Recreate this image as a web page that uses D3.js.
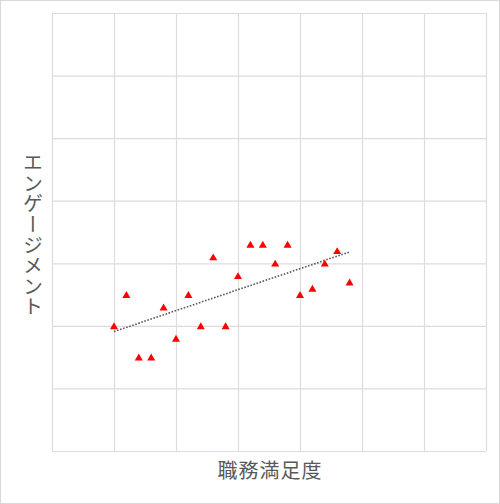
<!DOCTYPE html>
<html>
<head>
<meta charset="utf-8">
<script src="https://cdn.jsdelivr.net/npm/d3@7"></script>
<style>
  body { margin: 0; background: #fff; }
  svg { display: block; font-family: "Noto Sans CJK JP", "Noto Sans", sans-serif; }
</style>
</head>
<body>
<div id="chart"></div>
<script>
// 職務満足度 (x) vs エンゲージメント (y)
const satisfaction = [1.0, 1.2, 1.4, 1.6, 1.8, 2.0, 2.2, 2.4, 2.6, 2.8,
                      3.0, 3.2, 3.4, 3.6, 3.8, 4.0, 4.2, 4.4, 4.6, 4.8];
const engagement   = [2.0, 2.5, 1.5, 1.5, 2.3, 1.8, 2.5, 2.0, 3.1, 2.0,
                      2.8, 3.3, 3.3, 3.0, 3.3, 2.5, 2.6, 3.0, 3.2, 2.7];
const gridTicks = [0, 1, 2, 3, 4, 5, 6, 7];
const xTitle = "職務満足度";
const yTitle = "エンゲージメント";

const width = 500;
const height = 504;

var points = satisfaction.map(function(x, i) { return {x: x, y: engagement[i]}; });

var xScale = d3.scaleLinear().domain([0, 7]).range([52, 486]);
var yScale = d3.scaleLinear().domain([0, 7]).range([451, 13]);

var svg = d3.select("#chart")
    .append("svg")
    .attr("width", width)
    .attr("height", height);

// outer frame
svg.append("rect")
    .attr("x", 0.5).attr("y", 0.5)
    .attr("width", width - 1).attr("height", height - 1)
    .attr("fill", "none")
    .attr("stroke", "#d9d9d9");

// gridlines
var xGrid = d3.axisBottom(xScale).tickValues(gridTicks)
    .tickSize(-(yScale(0) - yScale(7))).tickFormat("");
var yGrid = d3.axisLeft(yScale).tickValues(gridTicks)
    .tickSize(-(xScale(7) - xScale(0))).tickFormat("");

svg.append("g")
    .attr("transform", "translate(0," + yScale(0) + ")")
    .call(xGrid)
    .call(g => g.select(".domain").remove())
    .selectAll("line").attr("stroke", "#dcdcdc").attr("stroke-width", 1.2);

svg.append("g")
    .attr("transform", "translate(" + xScale(0) + ",0)")
    .call(yGrid)
    .call(g => g.select(".domain").remove())
    .selectAll("line").attr("stroke", "#dcdcdc").attr("stroke-width", 1.2);

// linear trend line (least squares)
var mx = d3.mean(points, d => d.x);
var my = d3.mean(points, d => d.y);
var slope = d3.sum(points, d => (d.x - mx) * (d.y - my)) / d3.sum(points, d => (d.x - mx) * (d.x - mx));
var intercept = my - slope * mx;
var xr = d3.extent(points, d => d.x);

svg.append("line")
    .attr("x1", xScale(xr[0])).attr("y1", yScale(intercept + slope * xr[0]))
    .attr("x2", xScale(xr[1])).attr("y2", yScale(intercept + slope * xr[1]))
    .attr("stroke", "#595959")
    .attr("stroke-width", 1.6)
    .attr("stroke-dasharray", "1.6,1.6");

// markers (nudged so the triangle box sits centred on the value)
svg.selectAll("path.pt")
    .data(points)
    .enter()
    .append("path")
    .attr("class", "pt")
    .attr("d", d3.symbol().type(d3.symbolTriangle).size(28))
    .attr("transform", d => "translate(" + xScale(d.x) + "," + (yScale(d.y) + 1) + ")")
    .attr("fill", "#ff0000");

// axis titles
svg.append("text")
    .attr("x", (xScale(0) + xScale(7)) / 2 + 1)
    .attr("y", 478)
    .attr("text-anchor", "middle")
    .attr("font-size", 20)
    .attr("letter-spacing", 1)
    .attr("fill", "#595959")
    .text(xTitle);

svg.append("text")
    .attr("x", 33)
    .attr("y", (yScale(0) + yScale(7)) / 2 + 3)
    .attr("text-anchor", "middle")
    .attr("font-size", 20)
    .attr("letter-spacing", 0.6)
    .attr("fill", "#595959")
    .style("writing-mode", "vertical-rl")
    .style("text-orientation", "upright")
    .text(yTitle);
</script>
</body>
</html>
